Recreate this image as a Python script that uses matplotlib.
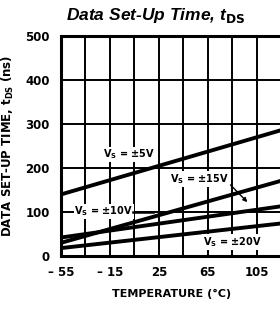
import numpy as np
import matplotlib.pyplot as plt

plt.rcParams['font.family'] = ['Liberation Sans Narrow', 'DejaVu Sans']

# temperature end points (deg C) and set-up time (ns) for each supply
temps = [-55, 125]
t_5v = [140, 286]
t_10v = [30, 171]
t_15v = [42, 113]
t_20v = [18, 74]
series = [t_5v, t_10v, t_15v, t_20v]

xticks = [-55, -15, 25, 65, 105]
xticklabels = ["\u2013 55", "\u2013 15", "25", "65", "105"]
yticks = [0, 100, 200, 300, 400, 500]

fig = plt.figure(figsize=(2.80, 3.09), dpi=100)
ax = fig.add_axes([0.218, 0.1715, 0.786, 0.712])

for s in series:
    ax.plot(temps, s, color="black", lw=2.8, solid_capstyle="butt", zorder=3)

ax.set_xlim(-55, 125)
ax.set_ylim(0, 500)
ax.set_xticks(xticks)
ax.set_xticklabels(xticklabels)
ax.set_xticks(np.arange(-35, 125, 40), minor=True)
ax.set_yticks(yticks)
ax.grid(True, which="both", color="black", lw=1.4)
ax.tick_params(which="both", length=0, labelsize=8.5)
ax.tick_params(axis="y", pad=8)
ax.tick_params(axis="x", pad=7)
for lab in ax.get_xticklabels() + ax.get_yticklabels():
    lab.set_fontweight("bold")
for sp in ax.spines.values():
    sp.set_linewidth(2.2)

box = dict(facecolor="white", edgecolor="none", pad=0.5)
txt = dict(fontsize=7, fontweight="bold", ha="center", va="center", zorder=4)
ax.text(1, 231, "V$_\\mathbf{S}$ = \u00b15V", bbox=box, **txt)
ax.text(58, 175, "V$_\\mathbf{S}$ = \u00b115V", bbox=box, **txt)
ax.text(-20, 101, "V$_\\mathbf{S}$ = \u00b110V", bbox=box, **txt)
ax.text(85, 32, "V$_\\mathbf{S}$ = \u00b120V", bbox=box, **txt)
ax.annotate("", xy=(99, 118), xytext=(82, 166),
            arrowprops=dict(arrowstyle="-|>", color="black", lw=1, mutation_scale=6), zorder=4)
ax.plot([4, 20], [100, 100], color="black", lw=1.8, zorder=4)

ax.set_xlabel("TEMPERATURE (\u00b0C)", fontsize=8, fontweight="bold", labelpad=7)
ax.set_ylabel("DATA SET-UP TIME, t$_\\mathbf{DS}$ (ns)", fontsize=8.5, fontweight="bold", labelpad=7)
fig.text(0.555, 0.95, "Data Set-Up Time, t$_\\mathbf{DS}$", fontsize=12.5,
         fontweight="bold", style="italic", family="Liberation Sans", ha="center", va="center")

fig.savefig("out.png", dpi=100)
